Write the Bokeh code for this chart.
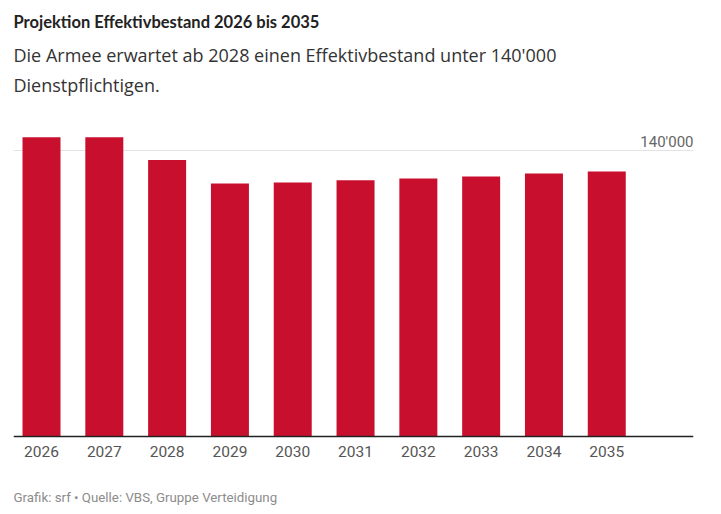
from bokeh.plotting import figure
from bokeh.models import Label, FixedTicker, ColumnDataSource, CustomJSTickFormatter
from bokeh.embed import file_html
from bokeh.resources import INLINE

years = [2026, 2027, 2028, 2029, 2030, 2031, 2032, 2033, 2034, 2035]
values = [146500, 146500, 135300, 123900, 124300, 125400, 126300, 127300, 128700, 129700]
ref_value = 140000
ref_label = "140'000"

title = "Projektion Effektivbestand 2026 bis 2035"
subtitle1 = "Die Armee erwartet ab 2028 einen Effektivbestand unter 140'000"
subtitle2 = "Dienstpflichtigen."
footer = "Grafik: srf \u2022 Quelle: VBS, Gruppe Verteidigung"

W, H = 710, 514
BASE_PX = 436      # page y of the zero line
REF_PX = 150       # page y of the 140'000 line
K = ref_value / (BASE_PX - REF_PX)   # data units per pixel

def py(page_y):
    """convert a page pixel row to a y data value (for text placement)"""
    return (BASE_PX - page_y) * K

X0, X1 = 2025.554, 2036.381

p = figure(width=W, height=H, output_backend="svg", toolbar_location=None,
           x_range=(X0, X1), y_range=(py(H), py(0)),
           min_border_left=13, min_border_right=17, min_border_top=0, min_border_bottom=0)
p.title = None
p.background_fill_color = "white"
p.border_fill_color = "white"
p.outline_line_color = None

src = ColumnDataSource(dict(x=years, top=values))
p.vbar(x="x", top="top", width=0.605, source=src, color="#C8102E", line_color=None)

p.yaxis.visible = False
p.xgrid.grid_line_color = None
p.ygrid.ticker = FixedTicker(ticks=[ref_value])
p.ygrid.grid_line_color = "#e3e3e3"
p.ygrid.grid_line_width = 1

ax = p.xaxis[0]
ax.fixed_location = 0
ax.ticker = FixedTicker(ticks=years)
ax.formatter = CustomJSTickFormatter(code="return String(tick);")
ax.major_tick_line_color = None
ax.minor_tick_line_color = None
ax.axis_line_color = "#222222"
ax.axis_line_width = 1.3
ax.major_label_standoff = 3
ax.major_label_text_font = "Roboto"
ax.major_label_text_font_size = "15.5px"
ax.major_label_text_color = "#555555"

def text(x, page_y, s, font, size, color, bold=False, align="left"):
    p.add_layout(Label(x=x, y=py(page_y), text=s, text_align=align,
                       text_baseline="alphabetic", text_font=font,
                       text_font_size=size, text_color=color,
                       text_font_style="bold" if bold else "normal"))

text(X1, 141.7, ref_label, "Roboto", "15px", "#666666", align="right")
text(X0, 21, title, "Liberation Sans Narrow, Lato", "16.5px", "#222222", bold=True)
text(X0, 54.5, subtitle1, "Open Sans", "18px", "#333333")
text(X0, 84, subtitle2, "Open Sans", "18px", "#333333")
text(X0, 497, footer, "Roboto", "13.3px", "#8c8c8c")

open("out.html", "w").write(file_html(p, INLINE))
